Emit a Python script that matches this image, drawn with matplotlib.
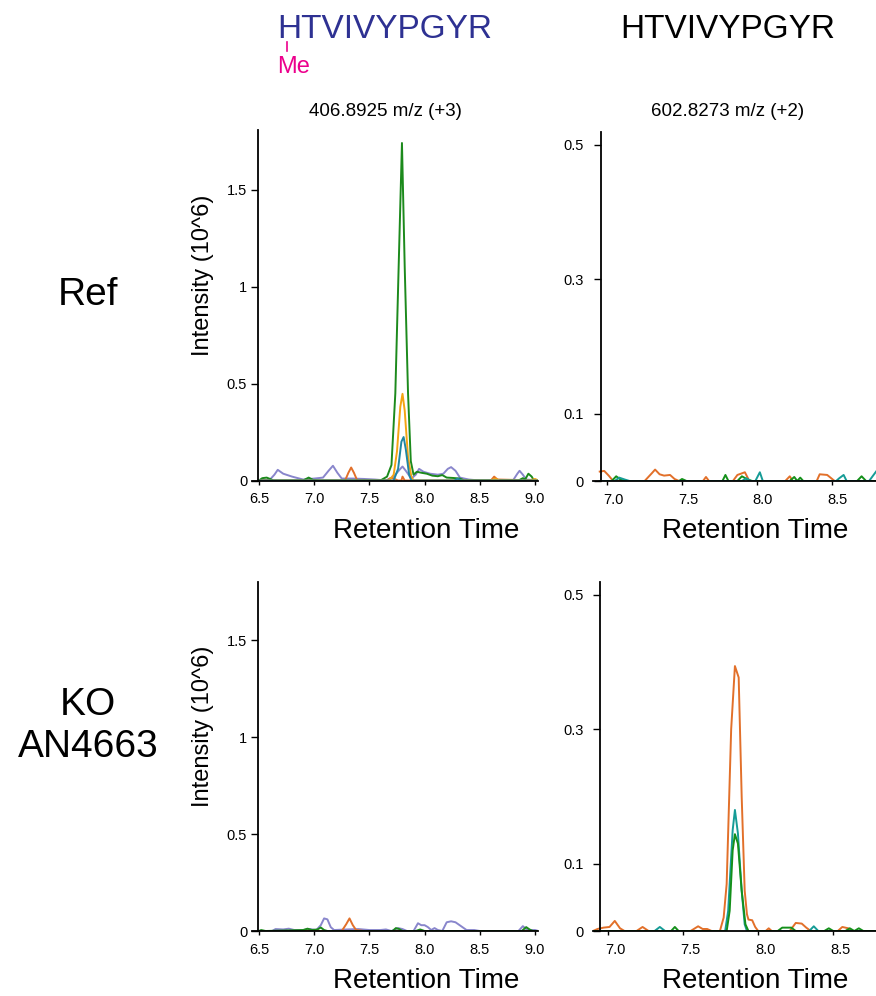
import matplotlib
matplotlib.use('Agg')
import matplotlib.pyplot as plt
from matplotlib.lines import Line2D
from matplotlib.transforms import ScaledTranslation

plt.rcParams['font.family'] = ['Liberation Sans', 'DejaVu Sans']

W, H = 876, 996

# ---- data (retention time in min, intensity in 10^6) ----
# top left: methylated peptide, Ref
tl_purple_x = [6.50, 6.60, 6.64, 6.67, 6.72, 6.80, 6.90, 7.00, 7.08, 7.13, 7.17, 7.21, 7.25, 7.35, 7.45, 7.55, 7.65,
               7.72, 7.78, 7.80, 7.83, 7.88, 7.92, 7.95, 7.99, 8.05, 8.12, 8.17, 8.21, 8.24, 8.28, 8.32, 8.40, 8.50,
               8.80, 8.84, 8.86, 8.89, 8.92, 9.03]
tl_purple_y = [0.0, 0.005, 0.03, 0.055, 0.035, 0.02, 0.005, 0.01, 0.015, 0.05, 0.076, 0.04, 0.01, 0.01, 0.008, 0.005, 0.0,
               0.02, 0.06, 0.072, 0.05, 0.01, 0.03, 0.06, 0.045, 0.035, 0.03, 0.035, 0.06, 0.069, 0.05, 0.015, 0.005, 0.0,
               0.0, 0.035, 0.05, 0.03, 0.005, 0.0]
tl_orange_x = [6.50, 7.28, 7.31, 7.335, 7.36, 7.39, 7.66, 7.69, 7.72, 7.76, 7.79, 7.80, 7.82, 8.60, 8.63, 8.66, 9.03]
tl_orange_y = [0.0, 0.0, 0.04, 0.067, 0.04, 0.0, 0.0, 0.012, 0.01, 0.0, 0.0, 0.02, 0.0, 0.0, 0.02, 0.005, 0.0]
tl_green_x = [6.50, 6.53, 6.57, 6.60, 6.63, 6.90, 6.95, 6.99, 7.05, 7.60, 7.66, 7.70, 7.735, 7.765, 7.795, 7.82, 7.85,
              7.875, 7.90, 7.93, 7.97, 8.02, 8.07, 8.12, 8.16, 8.20, 8.26, 8.32, 8.36, 8.85, 8.89, 8.91, 8.94, 8.97,
              8.99, 9.03]
tl_green_y = [0.0, 0.012, 0.015, 0.008, 0.0, 0.0, 0.015, 0.003, 0.0, 0.0, 0.02, 0.08, 0.45, 1.1, 1.74, 1.1, 0.45,
              0.1, 0.03, 0.045, 0.04, 0.035, 0.025, 0.022, 0.028, 0.015, 0.013, 0.01, 0.0, 0.0, 0.012, 0.005, 0.035,
              0.02, 0.0, 0.0]
tl_gold_x = [6.50, 7.68, 7.72, 7.75, 7.78, 7.80, 7.82, 7.85, 7.88, 7.90, 8.60, 8.64, 8.68, 8.95, 9.00, 9.03]
tl_gold_y = [0.0, 0.0, 0.03, 0.15, 0.38, 0.447, 0.36, 0.12, 0.02, 0.0, 0.0, 0.01, 0.0, 0.0, 0.008, 0.0]
tl_teal_x = [6.50, 7.72, 7.76, 7.79, 7.81, 7.83, 7.86, 7.88, 8.27, 8.30, 8.33, 9.03]
tl_teal_y = [0.0, 0.0, 0.06, 0.2, 0.224, 0.16, 0.03, 0.0, 0.0, 0.01, 0.0, 0.0]

# bottom left: methylated peptide, KO
bl_purple_x = [6.50, 6.62, 6.65, 6.72, 6.77, 6.82, 6.90, 6.96, 7.02, 7.06, 7.09, 7.12, 7.15, 7.18, 7.30, 7.40, 7.50,
               7.60, 7.65, 7.70, 7.76, 7.80, 7.84, 7.90, 7.94, 7.97, 8.00, 8.03, 8.06, 8.09, 8.12, 8.16, 8.20, 8.24,
               8.28, 8.33, 8.38, 8.45, 8.50, 8.85, 8.89, 8.92, 8.96, 9.00, 9.03]
bl_purple_y = [0.0, 0.0, 0.01, 0.008, 0.012, 0.005, 0.005, 0.01, 0.005, 0.03, 0.065, 0.06, 0.02, 0.005, 0.008, 0.01,
               0.005, 0.005, 0.008, 0.0, 0.015, 0.01, 0.0, 0.0, 0.04, 0.03, 0.03, 0.02, 0.005, 0.015, 0.005, 0.0, 0.045,
               0.05, 0.045, 0.025, 0.005, 0.005, 0.0, 0.0, 0.025, 0.01, 0.005, 0.005, 0.0]
bl_orange_x = [6.50, 6.93, 6.96, 6.99, 7.25, 7.29, 7.32, 7.35, 7.38, 7.45, 9.03]
bl_orange_y = [0.0, 0.0, 0.005, 0.0, 0.0, 0.035, 0.065, 0.03, 0.005, 0.0, 0.0]
bl_green_x = [6.50, 6.52, 6.56, 6.90, 6.94, 6.98, 7.03, 7.06, 7.09, 7.12, 7.71, 7.74, 7.77, 7.80, 7.92, 7.96, 8.00,
              8.88, 8.92, 8.95, 8.98, 9.03]
bl_green_y = [0.0, 0.005, 0.0, 0.005, 0.012, 0.005, 0.008, 0.018, 0.005, 0.0, 0.0, 0.015, 0.01, 0.0, 0.0, 0.008, 0.0,
              0.0, 0.02, 0.008, 0.0, 0.0]
bl_teal_x = [6.50, 9.03]
bl_teal_y = [0.0, 0.0]

# top right: unmodified peptide, Ref
tr_orange_x = [6.95, 6.98, 7.01, 7.04, 7.25, 7.30, 7.32, 7.35, 7.38, 7.42, 7.45, 7.48, 7.64, 7.66, 7.68, 7.84, 7.87,
               7.92, 7.95, 8.19, 8.22, 8.24, 8.40, 8.42, 8.47, 8.52, 8.85]
tr_orange_y = [0.014, 0.015, 0.008, 0.0, 0.0, 0.012, 0.017, 0.01, 0.008, 0.009, 0.003, 0.0, 0.0, 0.006, 0.0, 0.0,
               0.009, 0.013, 0.0, 0.0, 0.007, 0.0, 0.0, 0.01, 0.009, 0.0, 0.0]
tr_green_x = [6.95, 7.03, 7.06, 7.09, 7.12, 7.48, 7.50, 7.53, 7.77, 7.79, 7.81, 7.87, 7.90, 7.94, 7.97, 8.22, 8.25,
              8.27, 8.29, 8.31, 8.67, 8.70, 8.73, 8.85]
tr_green_y = [0.0, 0.0, 0.007, 0.002, 0.0, 0.0, 0.003, 0.0, 0.0, 0.009, 0.0, 0.0, 0.007, 0.002, 0.0, 0.0, 0.006,
              0.0, 0.005, 0.0, 0.0, 0.007, 0.0, 0.0]
tr_teal_x = [6.95, 7.05, 7.08, 7.12, 7.15, 7.90, 7.93, 7.96, 7.99, 8.02, 8.04, 8.53, 8.55, 8.58, 8.60, 8.75, 8.80, 8.85]
tr_teal_y = [0.0, 0.0, 0.005, 0.002, 0.0, 0.0, 0.004, 0.0, 0.0, 0.013, 0.0, 0.0, 0.004, 0.009, 0.0, 0.0, 0.015, 0.02]

# bottom right: unmodified peptide, KO
br_orange_x = [6.90, 6.93, 6.97, 7.01, 7.045, 7.08, 7.11, 7.19, 7.23, 7.27, 7.55, 7.60, 7.63, 7.66, 7.69, 7.745, 7.77,
               7.79, 7.82, 7.845, 7.87, 7.89, 7.91, 7.925, 7.935, 7.96, 7.98, 8.00, 8.05, 8.07, 8.09, 8.21, 8.25,
               8.29, 8.32, 8.35, 8.53, 8.56, 8.60, 8.63, 8.85]
br_orange_y = [0.0, 0.003, 0.005, 0.006, 0.015, 0.004, 0.0, 0.0, 0.006, 0.0, 0.0, 0.007, 0.003, 0.003, 0.0, 0.0, 0.02,
               0.07, 0.30, 0.394, 0.377, 0.2, 0.06, 0.025, 0.017, 0.016, 0.006, 0.0, 0.0, 0.004, 0.0, 0.0, 0.012,
               0.011, 0.005, 0.0, 0.0, 0.006, 0.004, 0.0, 0.0]
br_teal_x = [6.90, 7.31, 7.345, 7.38, 7.78, 7.80, 7.83, 7.845, 7.865, 7.89, 7.91, 7.925, 8.34, 8.37, 8.40, 8.85]
br_teal_y = [0.0, 0.0, 0.006, 0.0, 0.0, 0.03, 0.15, 0.18, 0.145, 0.06, 0.01, 0.0, 0.0, 0.007, 0.0, 0.0]
br_green_x = [6.90, 7.42, 7.445, 7.47, 7.79, 7.81, 7.83, 7.845, 7.865, 7.89, 7.915, 7.935, 8.13, 8.16, 8.22, 8.25,
              8.44, 8.47, 8.50, 8.58, 8.61, 8.64, 8.67, 8.70, 8.85]
br_green_y = [0.0, 0.0, 0.006, 0.0, 0.0, 0.03, 0.12, 0.144, 0.13, 0.06, 0.01, 0.0, 0.0, 0.005, 0.005, 0.0, 0.0,
              0.004, 0.0, 0.0, 0.004, 0.0, 0.004, 0.0, 0.0]

left_yticks = [0, 0.5, 1, 1.5]
left_yticklabels = ['0', '0.5', '1', '1.5']
right_yticks = [0, 0.1, 0.3, 0.5]
right_yticklabels = ['0', '0.1', '0.3', '0.5']
left_xticks = [6.5, 7.0, 7.5, 8.0, 8.5, 9.0]
right_xticks = [7.0, 7.5, 8.0, 8.5]

GREEN = '#1c8a1c'
GOLD = '#f4a413'
TEAL = '#2086a2'
PURPLE = '#8986cc'
ORANGE = '#e2702a'
TEAL2 = '#169c96'
GREEN2 = '#14901a'


def fx(px):
    return px / W


def fy(py):
    return 1 - py / H


def make_axes(fig, left, right, top, bottom, xlim, spine_x, ylim, xticks, yticks, yticklabels, ypad, xshift=0):
    ax = fig.add_axes([fx(left), fy(bottom), fx(right - left), (bottom - top) / H])
    ax.set_xlim(*xlim)
    ax.set_ylim(*ylim)
    for s in ['top', 'right']:
        ax.spines[s].set_visible(False)
    ax.spines['left'].set_position(('data', spine_x))
    ax.spines['left'].set_linewidth(1.3)
    ax.spines['bottom'].set_linewidth(1.3)
    ax.set_xticks(xticks)
    ax.set_xticklabels([f'{t:.1f}' for t in xticks])
    ax.set_yticks(yticks)
    ax.set_yticklabels(yticklabels)
    ax.tick_params(axis='y', length=5, width=1.0, pad=ypad, labelsize=10.5)
    ax.tick_params(axis='x', length=3, width=1.0, pad=5.5, labelsize=10.5)
    if xshift:
        # the tick labels sit a little right of their ticks in the original
        off = ScaledTranslation(xshift / 100, 0, fig.dpi_scale_trans)
        for lab in ax.get_xticklabels():
            lab.set_transform(lab.get_transform() + off)
    ax.patch.set_alpha(0)
    return ax


fig = plt.figure(figsize=(W / 100, H / 100), dpi=100)

# left column axes
ax_tl = make_axes(fig, 252, 538, 130, 480.5, (6.437, 9.027), 6.494, (0, 1.807),
                  left_xticks, left_yticks, left_yticklabels, 3)
ax_bl = make_axes(fig, 252, 538, 582, 931, (6.437, 9.027), 6.494, (0, 1.80),
                  left_xticks, left_yticks, left_yticklabels, 3)
# right column axes (run off the right edge of the figure)
ax_tr = make_axes(fig, 593, 880, 132, 481, (6.905, 8.823), 6.956, (0, 0.519),
                  right_xticks, right_yticks, right_yticklabels, 7, xshift=6)
ax_br = make_axes(fig, 593, 880, 582, 931, (6.90, 8.811), 6.949, (0, 0.519),
                  right_xticks, right_yticks, right_yticklabels, 7, xshift=7)

lw = 1.4
ax_tl.plot(tl_purple_x, tl_purple_y, color=PURPLE, lw=lw)
ax_tl.plot(tl_orange_x, tl_orange_y, color=ORANGE, lw=lw)
ax_tl.plot(tl_green_x, tl_green_y, color=GREEN, lw=lw)
ax_tl.plot(tl_gold_x, tl_gold_y, color=GOLD, lw=lw)
ax_tl.plot(tl_teal_x, tl_teal_y, color=TEAL, lw=lw)

ax_bl.plot(bl_teal_x, bl_teal_y, color=TEAL, lw=lw)
ax_bl.plot(bl_purple_x, bl_purple_y, color=PURPLE, lw=lw)
ax_bl.plot(bl_orange_x, bl_orange_y, color=ORANGE, lw=lw)
ax_bl.plot(bl_green_x, bl_green_y, color=GREEN, lw=lw)

ax_tr.plot(tr_orange_x, tr_orange_y, color=ORANGE, lw=lw)
ax_tr.plot(tr_green_x, tr_green_y, color=GREEN2, lw=lw)
ax_tr.plot(tr_teal_x, tr_teal_y, color=TEAL2, lw=lw)

ax_br.plot(br_orange_x, br_orange_y, color=ORANGE, lw=lw)
ax_br.plot(br_teal_x, br_teal_y, color=TEAL2, lw=lw)
ax_br.plot(br_green_x, br_green_y, color=GREEN2, lw=lw)

# axis titles as figure text
for cx, by in [(426, 538), (755, 538), (426, 988), (755, 988)]:
    fig.text(fx(cx), fy(by), 'Retention Time', ha='center', va='baseline', fontsize=20)
for cy in [275, 726]:
    fig.text(fx(203), fy(cy), 'Intensity (10^6)', ha='center', va='center', rotation=90, fontsize=17)

# column headers
fig.text(fx(384.5), fy(38), 'HTVIVYPGYR', ha='center', va='baseline', fontsize=24, color='#2e3192')
fig.text(fx(727.5), fy(38), 'HTVIVYPGYR', ha='center', va='baseline', fontsize=24, color='black')
fig.text(fx(277), fy(73), 'Me', ha='left', va='baseline', fontsize=17, color='#ec008c')
fig.add_artist(Line2D([fx(286.5), fx(286.5)], [fy(42), fy(51)], color='#ec008c', lw=1.2))
fig.text(fx(385), fy(115.5), '406.8925 m/z (+3)', ha='center', va='baseline', fontsize=13.5)
fig.text(fx(727.5), fy(115.5), '602.8273 m/z (+2)', ha='center', va='baseline', fontsize=13.5)

# row labels
fig.text(fx(88), fy(305), 'Ref', ha='center', va='baseline', fontsize=28)
fig.text(fx(88), fy(715), 'KO', ha='center', va='baseline', fontsize=28)
fig.text(fx(88), fy(757), 'AN4663', ha='center', va='baseline', fontsize=28)

fig.savefig('out.png', dpi=100)
plt.close(fig)
